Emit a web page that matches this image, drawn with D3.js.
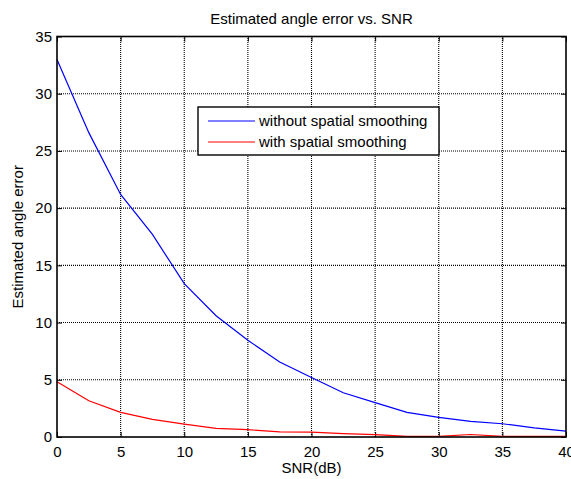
<!DOCTYPE html>
<html>
<head>
<meta charset="utf-8">
<script src="https://cdn.jsdelivr.net/npm/d3@7"></script>
<style>
  body { margin: 0; background: #fff; }
  svg { display: block; font-family: "Liberation Sans", Arial, sans-serif; }
</style>
</head>
<body>
<svg id="chart"></svg>
<script>
const snr = [0, 2.5, 5, 7.5, 10, 12.5, 15, 17.5, 20, 22.5, 25, 27.5, 30, 32.5, 35, 37.5, 40];
const withoutSmoothing = [33.0, 26.6, 21.2, 17.7, 13.4, 10.6, 8.45, 6.55, 5.2, 3.87, 3.0, 2.15, 1.72, 1.37, 1.16, 0.79, 0.52];
const withSmoothing = [4.83, 3.17, 2.15, 1.54, 1.13, 0.76, 0.64, 0.44, 0.42, 0.29, 0.2, 0.06, 0.05, 0.22, 0.06, 0.05, 0.05];
const xTicks = [0, 5, 10, 15, 20, 25, 30, 35, 40];
const yTicks = [0, 5, 10, 15, 20, 25, 30, 35];
const seriesNames = ["without spatial smoothing", "with spatial smoothing"];
const seriesColors = ["#0000ff", "#ff0000"];

const width = 571;
const height = 479;
const margin = { left: 57, right: 5, top: 36.5, bottom: 42 };
const fontSize = 15;

const svg = d3.select("#chart")
    .attr("width", width)
    .attr("height", height);

const xScale = d3.scaleLinear()
    .domain([0, 40])
    .range([margin.left, width - margin.right]);

const yScale = d3.scaleLinear()
    .domain([0, 35])
    .range([height - margin.bottom, margin.top]);

const x0 = xScale.range()[0], x1 = xScale.range()[1];
const y0 = yScale.range()[0], y1 = yScale.range()[1];

//Dotted grid lines
const grid = svg.append("g").attr("stroke", "#000").attr("stroke-width", 1.1).attr("stroke-dasharray", "1,1");
grid.selectAll(".vgrid")
    .data(xTicks.slice(1, -1))
    .enter()
    .append("line")
    .attr("x1", d => xScale(d)).attr("x2", d => xScale(d))
    .attr("y1", y0).attr("y2", y1);
grid.selectAll(".hgrid")
    .data(yTicks.slice(1, -1))
    .enter()
    .append("line")
    .attr("x1", x0).attr("x2", x1)
    .attr("y1", d => yScale(d)).attr("y2", d => yScale(d));

//Axes with inward ticks (matlab style)
const xAxis = d3.axisBottom(xScale).tickValues(xTicks).tickSizeInner(-5).tickSizeOuter(0).tickPadding(9);
const yAxis = d3.axisLeft(yScale).tickValues(yTicks).tickSizeInner(-5).tickSizeOuter(0).tickPadding(5);

const gx = svg.append("g")
    .attr("transform", "translate(0," + y0 + ")")
    .call(xAxis);
const gy = svg.append("g")
    .attr("transform", "translate(" + x0 + ",0)")
    .call(yAxis);

svg.append("g")
    .attr("transform", "translate(0," + y1 + ")")
    .call(d3.axisTop(xScale).tickValues(xTicks).tickSizeInner(-5).tickSizeOuter(0).tickFormat(""));
svg.append("g")
    .attr("transform", "translate(" + x1 + ",0)")
    .call(d3.axisRight(yScale).tickValues(yTicks).tickSizeInner(-5).tickSizeOuter(0).tickFormat(""));

svg.selectAll(".domain").remove();
svg.selectAll(".tick line").attr("stroke", "#000");
[gx, gy].forEach(g => g.selectAll(".tick text")
    .attr("font-size", fontSize)
    .attr("fill", "#000")
    .attr("font-family", "Liberation Sans, Arial, sans-serif"));

//Lines
const line = d3.line()
    .x((d, i) => xScale(snr[i]))
    .y(d => yScale(d));

[withoutSmoothing, withSmoothing].forEach((vals, i) => {
    svg.append("path")
        .datum(vals)
        .attr("fill", "none")
        .attr("stroke", seriesColors[i])
        .attr("stroke-width", 1.2)
        .attr("d", line);
});

//Frame
svg.append("rect")
    .attr("x", x0).attr("y", y1)
    .attr("width", x1 - x0).attr("height", y0 - y1)
    .attr("fill", "none")
    .attr("stroke", "#000")
    .attr("stroke-width", 1.6);

//Title and labels
svg.append("text")
    .attr("x", (x0 + x1) / 2)
    .attr("y", 24)
    .attr("text-anchor", "middle")
    .attr("font-size", fontSize)
    .text("Estimated angle error vs. SNR");

svg.append("text")
    .attr("x", (x0 + x1) / 2)
    .attr("y", 473)
    .attr("text-anchor", "middle")
    .attr("font-size", fontSize)
    .text("SNR(dB)");

svg.append("text")
    .attr("transform", "translate(23," + ((y0 + y1) / 2) + ") rotate(-90)")
    .attr("text-anchor", "middle")
    .attr("font-size", fontSize)
    .text("Estimated angle error");

//Legend
const legend = svg.append("g").attr("transform", "translate(198,107)");
legend.append("rect")
    .attr("width", 241).attr("height", 48)
    .attr("fill", "#fff")
    .attr("stroke", "#000")
    .attr("stroke-width", 1.4);
seriesNames.forEach((name, i) => {
    const yy = 14 + i * 21;
    legend.append("line")
        .attr("x1", 10).attr("x2", 57)
        .attr("y1", yy).attr("y2", yy)
        .attr("stroke", seriesColors[i])
        .attr("stroke-width", 1.2);
    legend.append("text")
        .attr("x", 61)
        .attr("y", yy + 5)
        .attr("font-size", fontSize)
        .text(name);
});
</script>
</body>
</html>
